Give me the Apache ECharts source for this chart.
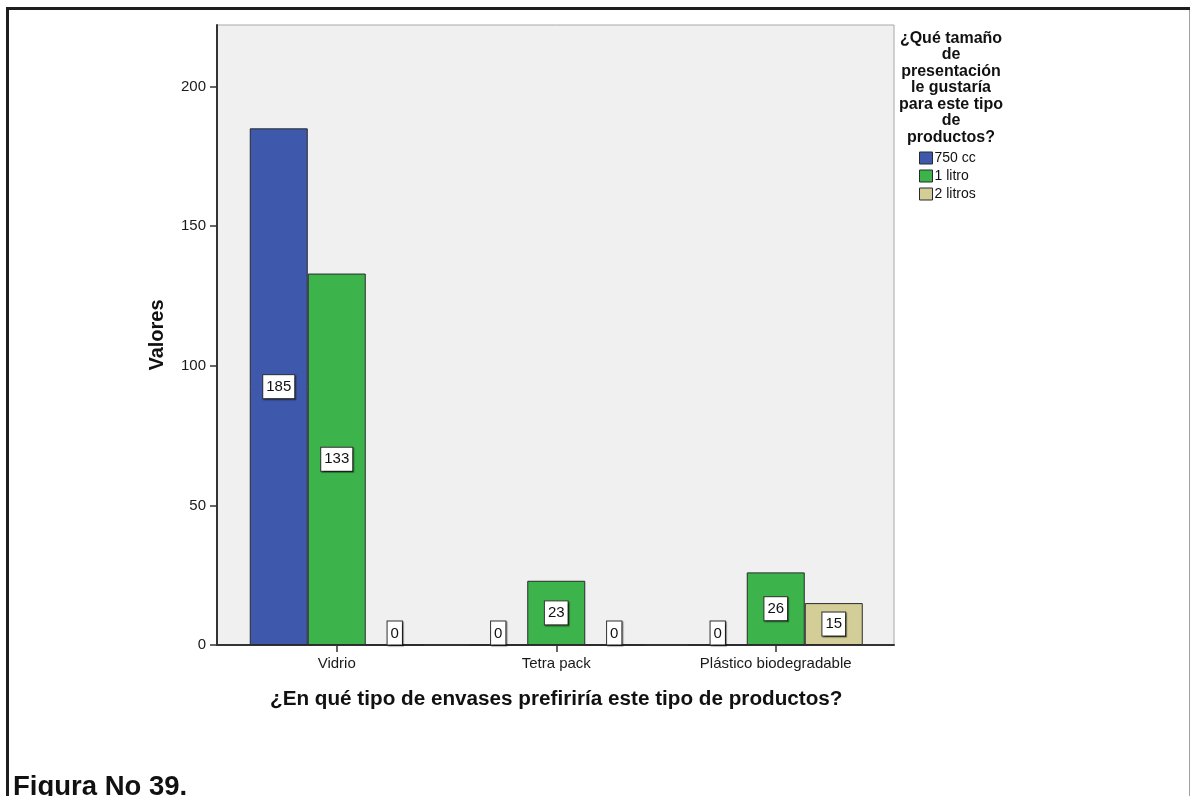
<!DOCTYPE html>
<html>
<head>
<meta charset="utf-8">
<title>Figura No 39</title>
<script src="https://cdn.jsdelivr.net/npm/echarts@6/dist/echarts.min.js"></script>
<style>
  html, body { margin: 0; padding: 0; background: #ffffff; }
  #chart { width: 1191px; height: 796px; }
</style>
</head>
<body>
<div id="chart"></div>
<script>
// Envase preferido (categorías) y tamaño de presentación (series)
const categories = ['Vidrio', 'Tetra pack', 'Plástico biodegradable'];
const seriesNames = ['750 cc', '1 litro', '2 litros'];
const values750cc = [185, 0, 0];
const values1litro = [133, 23, 26];
const values2litros = [0, 0, 15];
const yTicks = [0, 50, 100, 150, 200];

const FONT = '"Liberation Sans", Arial, sans-serif';
const colors = ['#3E58AC', '#3CB44B', '#D3CE97'];

const chart = echarts.init(document.getElementById('chart'), null, { renderer: 'canvas' });

// Caja blanca con sombra para cada valor; las barras de valor 0 llevan la etiqueta apoyada en la base
const valueLabel = {
  show: true,
  position: 'inside',
  color: '#111',
  fontFamily: FONT,
  fontSize: 15,
  backgroundColor: '#ffffff',
  borderColor: '#333',
  borderWidth: 1,
  padding: [5, 3, 3, 3],
  shadowColor: 'rgba(0,0,0,0.45)',
  shadowOffsetX: 1,
  shadowOffsetY: 1,
  shadowBlur: 1
};
function toData(vals) {
  return vals.map(v => v === 0
    ? { value: v, label: { position: 'insideBottom', distance: 1 } }
    : v);
}
function barSeries(name, vals, color) {
  return {
    name: name,
    type: 'bar',
    xAxisIndex: 1,
    yAxisIndex: 1,
    barWidth: 58,
    barGap: '0%',
    itemStyle: { color: color, borderColor: '#2a2a2a', borderWidth: 1 },
    label: valueLabel,
    emphasis: { disabled: true },
    data: toData(vals)
  };
}

const yMax = 222;

chart.setOption({
  animation: false,
  color: colors,
  textStyle: { fontFamily: FONT },
  title: [
    {
      text: '¿Qué tamaño\nde\npresentación\nle gustaría\npara este tipo\nde\nproductos?',
      left: 946,
      top: 25,
      textAlign: 'center',
      textStyle: { fontFamily: FONT, fontSize: 16, fontWeight: 'bold', color: '#111', lineHeight: 16.5, align: 'center' }
    },
    {
      text: 'Figura No 39.',
      left: 8,
      top: 768,
      textStyle: { fontFamily: FONT, fontSize: 27.5, fontWeight: 'bold', color: '#111' }
    }
  ],
  legend: {
    orient: 'vertical',
    left: 914,
    top: 146,
    itemWidth: 13,
    itemHeight: 12,
    itemGap: 4,
    icon: 'rect',
    selectedMode: false,
    itemStyle: { borderColor: '#2a2a2a', borderWidth: 1 },
    textStyle: { fontFamily: FONT, fontSize: 14, color: '#111', padding: [0, 0, 0, -3] },
    data: seriesNames
  },
  grid: [
    // Marco del área de trazado
    { left: 217, top: 25, width: 677, height: 620, show: true, backgroundColor: '#F0F0F0', borderColor: '#a8a8a8', borderWidth: 1 },
    // Zona de las barras (bandas de categoría)
    { left: 227, top: 25, width: 658.5, height: 620 }
  ],
  xAxis: [
    {
      gridIndex: 0, type: 'value', min: 0, max: 1,
      axisLine: { show: true, lineStyle: { color: '#333', width: 2 } },
      axisTick: { show: false }, axisLabel: { show: false }, splitLine: { show: false }
    },
    {
      gridIndex: 1, type: 'category', data: categories,
      axisLine: { show: false },
      axisTick: { show: true, alignWithLabel: true, length: 7, lineStyle: { color: '#333', width: 1.5 } },
      axisLabel: { fontFamily: FONT, fontSize: 15, color: '#1a1a1a', margin: 11 },
      name: '¿En qué tipo de envases prefiriría este tipo de productos?',
      nameLocation: 'middle',
      nameGap: 44,
      nameTextStyle: { fontFamily: FONT, fontSize: 20.7, fontWeight: 'bold', color: '#111' }
    }
  ],
  yAxis: [
    {
      gridIndex: 0, type: 'value', min: 0, max: yMax, interval: 50,
      axisLine: { show: true, lineStyle: { color: '#333', width: 2 } },
      axisTick: { show: true, length: 7, lineStyle: { color: '#333', width: 1.5 } },
      axisLabel: {
        fontFamily: FONT, fontSize: 15, color: '#1a1a1a', margin: 11, showMaxLabel: false,
        formatter: v => (yTicks.indexOf(v) >= 0 ? String(v) : '')
      },
      splitLine: { show: false },
      name: 'Valores',
      nameLocation: 'middle',
      nameRotate: 90,
      nameGap: 50,
      nameTextStyle: { fontFamily: FONT, fontSize: 20, fontWeight: 'bold', color: '#111' }
    },
    {
      gridIndex: 1, type: 'value', min: 0, max: yMax, show: false
    }
  ],
  graphic: [
    // Marco de la figura
    { type: 'line', shape: { x1: 6, y1: 8.5, x2: 1190, y2: 8.5 }, style: { stroke: '#1e1e1e', lineWidth: 3 }, silent: true },
    { type: 'line', shape: { x1: 7.5, y1: 7, x2: 7.5, y2: 796 }, style: { stroke: '#1e1e1e', lineWidth: 3 }, silent: true },
    { type: 'line', shape: { x1: 1189.5, y1: 10, x2: 1189.5, y2: 796 }, style: { stroke: '#a0a0a0', lineWidth: 1 }, silent: true }
  ],
  series: [
    barSeries(seriesNames[0], values750cc, colors[0]),
    barSeries(seriesNames[1], values1litro, colors[1]),
    barSeries(seriesNames[2], values2litros, colors[2])
  ]
});
</script>
</body>
</html>
